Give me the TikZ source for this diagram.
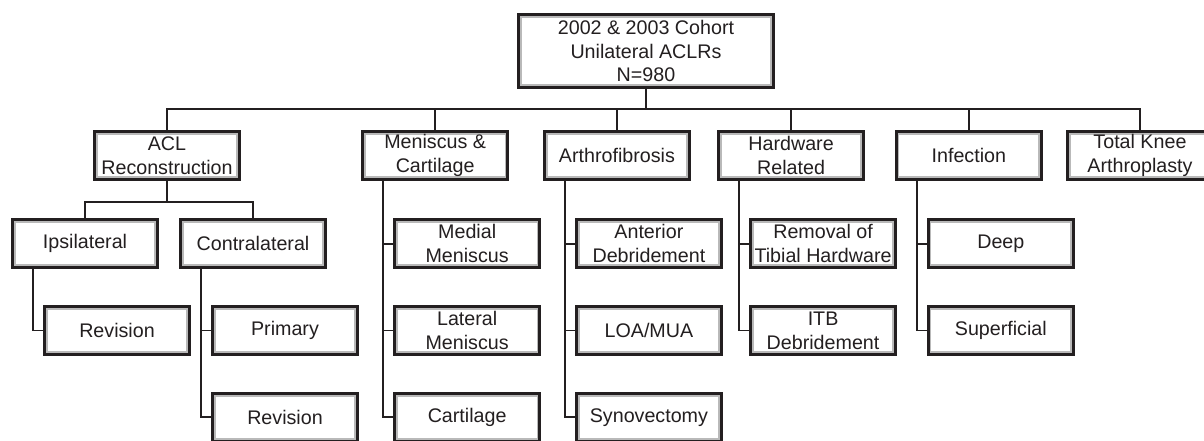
\documentclass[tikz,border=0pt]{standalone}
\usepackage{fontspec}
\setmainfont{Liberation Sans}
\usetikzlibrary{positioning, calc}
\definecolor{lineDark}{RGB}{35, 31, 32}
\definecolor{innerGray}{RGB}{185, 185, 185}

\begin{document}
\begin{tikzpicture}[
        node distance=0.9cm,
        box/.style={rectangle, draw=lineDark, line width=2.1pt, fill=white, minimum width=3.63cm, minimum height=1.2cm, inner xsep=2pt, inner ysep=1pt, align=center, text=lineDark, font=\fontsize{14}{17}\selectfont,
            path picture={\draw[innerGray, line width=4.6pt] (path picture bounding box.south west) rectangle (path picture bounding box.north east);}},
        rootbox/.style={box, minimum width=6.38cm, minimum height=1.83cm},
        link/.style={lineDark, line width=1.4pt}
    ]
        \useasboundingbox (0,0) rectangle (30.1,-11.025);

        % Cohort
        \node[rootbox] at (16.15,-1.275) (top) {2002 \& 2003 Cohort\\Unilateral ACLRs\\N=980};

        % Categories
        \node[box] at (4.175,-3.89) (c1) {ACL\\Reconstruction};
        \node[box, right=3cm of c1] (c2) {Meniscus \&\\Cartilage};
        \node[box, right=0.84cm of c2] (c3) {Arthrofibrosis};
        \node[box, right=0.65cm of c3] (c4) {Hardware\\Related};
        \node[box, right=0.74cm of c4] (c5) {Infection};
        \node[box, right=0.575cm of c5] (c6) {Total Knee\\Arthroplasty};

        % ACL reconstruction
        \node[box, below=0.925cm of c1, xshift=-2.05cm] (a1) {Ipsilateral};
        \node[box, below=0.925cm of c1, xshift=2.15cm] (a2) {Contralateral};
        \node[box, below=0.9cm of a1, xshift=0.8cm] (a3) {Revision};
        \node[box, below=0.9cm of a2, xshift=0.8cm] (a4) {Primary};
        \node[box, below=0.9cm of a4] (a5) {Revision};

        % Meniscus & cartilage
        \node[box, below=0.925cm of c2, xshift=0.8cm] (s1) {Medial\\Meniscus};
        \node[box, below=0.9cm of s1] (s2) {Lateral\\Meniscus};
        \node[box, below=0.9cm of s2] (s3) {Cartilage};

        % Arthrofibrosis
        \node[box, below=0.925cm of c3, xshift=0.8cm] (s4) {Anterior\\Debridement};
        \node[box, below=0.9cm of s4] (s5) {LOA/MUA};
        \node[box, below=0.9cm of s5] (s6) {Synovectomy};

        % Hardware
        \node[box, below=0.925cm of c4, xshift=0.8cm] (s7) {Removal of\\Tibial Hardware};
        \node[box, below=0.9cm of s7] (s8) {ITB\\Debridement};

        % Infection
        \node[box, below=0.925cm of c5, xshift=0.8cm] (s9) {Deep};
        \node[box, below=0.9cm of s9] (s10) {Superficial};

        % Links
        \draw[link] (top.south) -- ++(0,-0.5) coordinate (bus);
        \draw[link] (c1.north) |- (bus) -| (c6.north);
        \foreach \n in {c2,c3,c4,c5}
            \draw[link] (\n.north) -- (\n.north |- bus);

        \draw[link] (c1.south) -- ++(0,-0.525) coordinate (fork);
        \draw[link] (a1.north) |- (fork) -| (a2.north);
        \draw[link] (a1.south west) ++(0.55,0) |- (a3.west);
        \foreach \n in {a4,a5}
            \draw[link] (a2.south west) ++(0.55,0) |- (\n.west);

        \foreach \n in {s1,s2,s3}
            \draw[link] (c2.south west) ++(0.55,0) |- (\n.west);
        \foreach \n in {s4,s5,s6}
            \draw[link] (c3.south west) ++(0.55,0) |- (\n.west);
        \foreach \n in {s7,s8}
            \draw[link] (c4.south west) ++(0.55,0) |- (\n.west);
        \foreach \n in {s9,s10}
            \draw[link] (c5.south west) ++(0.55,0) |- (\n.west);
    \end{tikzpicture}
\end{document}
